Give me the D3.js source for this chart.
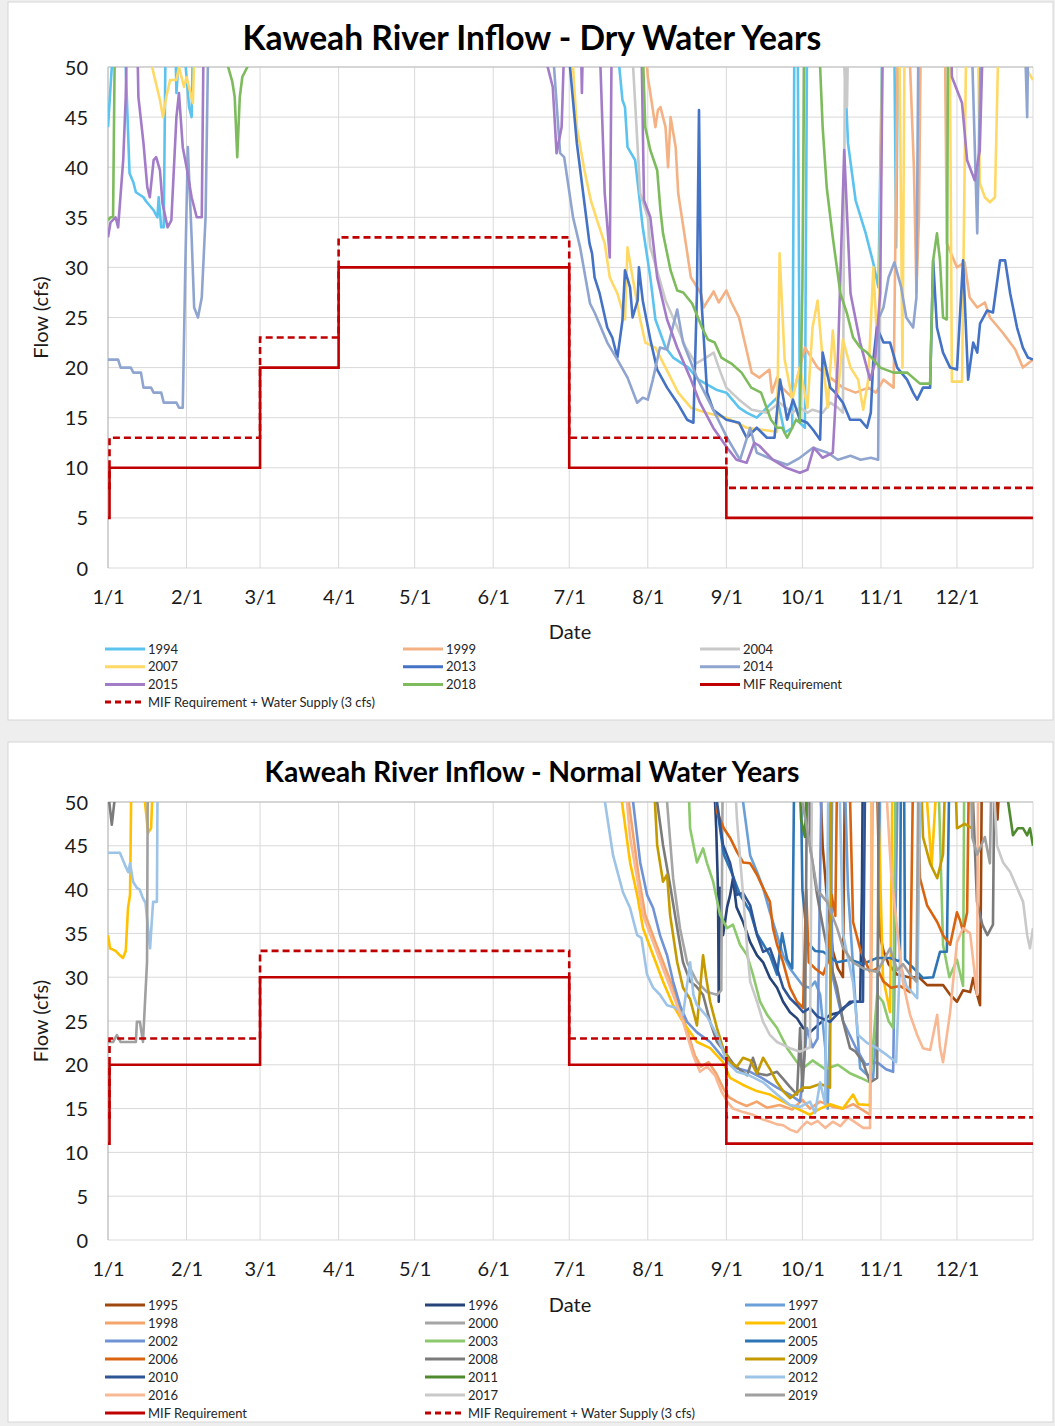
<!DOCTYPE html>
<html>
<head>
<meta charset="utf-8">
<script src="https://cdn.jsdelivr.net/npm/d3@7"></script>
<style>
  body { margin: 0; background: #eeeeee; }
  text { font-family: Lato, "Open Sans", sans-serif; }
</style>
</head>
<body>
<svg id="chart" width="1055" height="1426"></svg>
<script>
// axis ticks (day of a 366 day year)
var monthDays = [0, 31, 60, 91, 121, 152, 182, 213, 244, 274, 305, 335];
var monthLabels = ['1/1', '2/1', '3/1', '4/1', '5/1', '6/1', '7/1', '8/1', '9/1', '10/1', '11/1', '12/1'];
var flowTicks = [0, 5, 10, 15, 20, 25, 30, 35, 40, 45, 50];

// minimum instream flow requirement, step changes
var mifDays = [0, 0.6, 60, 91, 182, 244, 365];
var dryMif = [5, 10, 20, 30, 10, 5, 5];
var normalMif = [11, 20, 30, 30, 20, 11, 11];
var waterSupply = 3;

// ---- dry years: [day, cfs]  (60 = off the top of the chart)
var dry1994 = [[0,44],[2,52],[4,60],[6,60],[7,50],[8.5,39.4],[10,38.5],[11,37.5],[14,37],[15,36.6],[18,35.7],[19.5,35],[20,37],[21,34],[22,34],[23,60],[26,60],[27,47.4],[29,55],[32,46],[33,45],[34,60],
  [198,60],[203,46.7],[204,46],[205,42],[208,40.7],[211,34],[214,29],[216,24.8],[220,22],[223,21],[229,20],[233,18.8],[240,17.8],[244,17.5],[249,16],[252,15.5],[256,15],[260,16],[264,17],[267,13.5],[270,14],[271,60],[272,60],[273,14.5],[275,14],[276,60],[289,60],[292,42.4],[295,36.7],[299,33.4],[302,30.4],[304,28],[306,60],[310,60],[311,32],[312,60],[365,60]];
var dry1999 = [[0,60],[210,60],[213,49],[214,47.4],[216,44],[217,45.7],[218,46],[220,44],[221,40],[222,45],[224,42],[225,37.4],[228,32.4],[230,29],[234,27.4],[235,26],[239,27.6],[241,26.5],[244,27.7],[246,26.5],[249,25],[252,21.7],[254,19.5],[257,19],[261,19.8],[262,17.5],[264,19],[266,18],[270,17],[275,22],[280,20],[285,19],[290,18],[295,17.5],[300,18],[303,17.5],[306,18.8],[310,18],[312,60],[315,60],[318,40],[319,27.5],[320,35],[321,60],[330,60],[331,32.4],[335,30],[338,30.5],[340,27],[343,26],[346,26.5],[348,25],[353,23.5],[358,21.8],[361,20],[365,20.8]];
var dry2004 = [[0,60],[205,60],[210,37.4],[213,35],[214,32],[217,29.4],[220,26.7],[224,24.4],[228,22],[232,20.4],[236,21],[239,21.5],[241,20],[244,18],[249,16.8],[254,15.8],[260,15.5],[265,16.5],[270,15.5],[273,16],[276,15.5],[278,15.8],[282,15.5],[285,16.5],[288,16],[290,15.5],[291,60],[291.6,46],[292.5,60],[365,60]];
var dry2007 = [[0,60],[16,60],[17.4,50],[20.5,46.7],[21.7,45],[23,47],[24.5,48.7],[27,48.7],[28,50],[30,48],[31,49],[33.5,46.4],[35,60],
  [181,60],[185,44],[188,39.7],[190.5,36.7],[193,34.7],[196,32.4],[198,29],[201,27.4],[204,24.8],[205,32],[207,29],[210,24.8],[212,22.5],[216,22],[220,20],[225,17.5],[230,16],[236,15.5],[244,15],[252,14],[258,13.8],[264,13.6],[265,31.4],[267,20.8],[270,16.8],[273,20],[276,16],[278,24],[280,26.7],[282,20.8],[284,16],[286,23.7],[288,17.5],[290,22.8],[293,20],[296,18.8],[298,15.8],[300,18.8],[302,30],[304,20],[306,60],[312,60],[313.5,20],[314.5,60],[332,60],[333,18.6],[337,18.6],[339,60],[343,60],[344,38.4],[346,37],[348,36.5],[350,37],[352,60],[361,60],[362,50],[365,48.7]];
var dry2013 = [[0,60],[180,60],[182.3,50],[185,42.4],[187.5,37.4],[190,32.4],[191,31.4],[192,29],[194,27.4],[197,24],[199,23],[201,21],[203,24.7],[204,29.7],[206,28],[207,25],[209,26.7],[209.5,30],[211,26.7],[214,22.8],[216.7,19.8],[220.6,18],[224.6,16.5],[228.5,14.8],[231,14.5],[232.4,27.4],[233.2,45.7],[234,27.4],[236.4,17.5],[238.8,15.8],[244,14.8],[249,14.5],[252,13],[256,14],[260,13],[263,13],[265.2,18.8],[268,14.8],[270.3,16.8],[273,14.8],[275.9,14.5],[278.2,13.8],[281,12.8],[282,21.5],[285,18],[287,17.5],[290,16.5],[292.8,14.8],[296.8,14.8],[299.5,14],[301,15.5],[302,20.8],[303.4,24],[306,22.5],[308.6,22.5],[311.4,20],[315.3,18.8],[317.7,17.5],[319.3,16.8],[321.6,18],[324.4,18],[325.6,30.7],[327.1,24],[329.5,21.5],[332.3,20],[335,19.8],[337.4,30.7],[339.4,18.8],[341.4,22.5],[343,21.5],[344.1,24.4],[346.9,25.7],[349.2,25.5],[352,30.7],[354,30.7],[356,27.4],[358.7,24],[361,22],[363,21],[365,20.8]];
var dry2014 = [[0,20.8],[4,20.8],[5,20],[9,20],[10,19.5],[13,19.5],[14,18],[17,18],[18,17.5],[21,17.5],[22,16.5],[27,16.5],[28,16],[29.5,16],[30.5,30],[31.5,42],[33,33],[34,26],[35.5,25],[37,27],[38.5,35],[40,60],
  [174,60],[176,50],[178.4,41.4],[180,41],[183.5,35],[186.3,32],[190.2,26.4],[192,25.5],[197,22.5],[201,20.8],[205,19],[208.8,16.5],[211,17],[213,16.8],[215,18.8],[217.8,22],[220.6,21.8],[224.6,25.8],[226.9,22.5],[232.4,19],[238.8,15.8],[244.3,13],[249.4,10.8],[253.4,14],[256,11.5],[262.4,10.8],[268,10.3],[273,11],[278.2,12],[284,11.5],[288,10.8],[293,11.2],[297,10.8],[301,11],[303.9,10.8],[304.3,25],[306,26],[308,29],[310.3,30.5],[313,28],[315,25],[317.7,24],[319,27],[320,60],[340,60],[343,33.4],[345,60],[361,60],[362.7,45],[363.5,60]];
var dry2015 = [[0,33],[1,34.5],[3,35],[4,34],[6,40.7],[7,47],[8,60],[11,60],[12,47],[14,42.4],[15.5,38],[16.5,37],[18,40.7],[19,41],[20.5,39.7],[21.5,36.4],[23.5,34],[25,34.7],[27,45],[28,47.4],[29.5,42],[31,40],[33,37],[35,35],[37,35],[38,60],
  [172,60],[173.5,50],[175.5,48],[177,41.4],[179,44],[181,60],[186,60],[187,47.4],[188,60],[193,60],[196,37.4],[198,31],[199,60],[210,60],[211.5,36.7],[214,35],[216.7,29],[220.6,24.8],[224.6,22],[229.7,19],[233.6,16.5],[238.8,14],[244.3,12],[248,10.8],[252,10.5],[255,12.5],[257,12.2],[262.4,10.8],[267.6,10],[273,9.5],[276,9.8],[278.5,12],[282,11],[286,11.5],[288,20.8],[290.5,41.7],[293,27.4],[296.8,22.5],[300.7,18.8],[302.6,20.4],[304.7,27.4],[306,60],[332,60],[333,49],[337,46.4],[339,40.7],[342,38.7],[344,41.7],[346,60],[365,60]];
var dry2018 = [[0,34.7],[1,35],[2,35],[3,60],[46,60],[47.4,50],[49,48.6],[50,47],[51,41],[52,47],[53,49],[55,50],[56,60],
  [210,60],[212,44],[214,41.7],[216.7,39.7],[218,35.7],[219,33.4],[222,29.7],[224.6,27.7],[227,27.5],[230.5,26.4],[234.4,24],[236.7,22.8],[239.4,22.5],[242,21],[246,20.4],[250,19.5],[253.8,18],[257.7,17.5],[261.6,14.8],[264,14],[266,14],[268,13],[270,14],[271.5,14.8],[273,14.5],[274,28],[275,60],[280,60],[281,50],[282,44],[283.6,38],[286,33],[289,27.4],[291.6,25.4],[294,23],[296.8,22],[299.5,21.5],[302,20.8],[304.7,20],[310,19.5],[315.3,19.5],[320.4,18.4],[324.4,18.4],[325.6,30.7],[327.1,33.4],[328.3,30.7],[329.5,25],[331,24.8],[331.6,60],[365,60]];

// ---- normal years
var nrm1995 = [[0,60],[280,60],[282,45],[284,38],[286,33],[288,31],[290,30],[291,60],[303,60],[304.7,34.8],[306,33],[308,31.5],[311.4,30.3],[316,30],[320,30],[323.2,29.1],[329.5,29.1],[332.3,28],[335,27.2],[337.4,28.5],[340.2,28.3],[341.4,29.9],[342.5,28.5],[344.1,26.8],[345,60],[350,60],[351,48],[353,60],[365,60]];
var nrm1996 = [[0,60],[238,60],[240,47],[240.7,40],[241,27.2],[241.5,40.2],[242.7,34.8],[244.3,38],[245.5,39.4],[246.6,41.3],[248,38],[250.6,36.3],[253.4,34],[256.1,32.5],[258.5,31.7],[261.2,29.9],[264,28.8],[266.4,27.2],[269.1,26],[271.9,25.3],[274.3,24.2],[277,23.7],[280,24.5],[284.9,25.7],[288.9,26],[292.8,27.2],[296.8,27.2],[297.5,40],[298,60],[365,60]];
var nrm1997 = [[0,60],[248,60],[250.6,50],[253.4,43.9],[256.1,42],[258.5,40.2],[261.2,37.4],[264,34.8],[266.4,32.5],[269.1,31],[271.9,29.9],[274.3,29],[277,28.8],[279,29.5],[281,28],[283,22],[284,15],[285,26],[286,60],[290,60],[292,40],[295.6,24.2],[296.8,19.6],[299,19],[301.9,18.5],[303.5,25],[305,60],[365,60]];
var nrm1998 = [[0,60],[203,60],[205.5,50],[209.5,41.3],[212,37.1],[216,34],[220,31],[224,28],[227.5,24.9],[231.5,21.1],[234,19.8],[237,20.3],[240,19],[243,17.2],[245,16.3],[248,15.8],[252,15.3],[256,15.8],[260,15.1],[265,15.4],[270,14.9],[274,16],[277,15],[281,15.8],[286,15.2],[290,15],[294,15.5],[298,14.8],[300.7,14.3],[302,60],[365,60]];
var nrm2000 = [[0,60],[218,60],[220.6,50],[223,41.3],[225.7,35.6],[228.5,31.7],[232.4,29.5],[236.4,28.3],[240.3,28],[242,28.5],[242.7,60],[365,60]];
var nrm2001 = [[0,34.8],[0.8,33.3],[3,33],[4.7,32.5],[5.9,32.2],[7,33],[7.9,37.9],[8.7,39.4],[9.5,60],[14,60],[14.6,50],[15.8,46.5],[17,47],[17.4,50],[18,60],
  [200,60],[202.8,50],[206,43.1],[208.8,39.4],[211.1,35.6],[215.1,32.5],[219,29.5],[223,26.8],[226.9,24.9],[232.4,22.6],[237.6,21.9],[242.7,20.3],[245.5,18.5],[250.6,17.7],[256,17],[261.2,16.6],[266.4,15.8],[271.9,15],[277,14.3],[281,15],[285,15.5],[290,15],[294,16.6],[296,15.5],[300.7,15.4],[301.5,60],[303,60],[305.8,30],[308.6,26],[309.8,60],[322,60],[323.2,50],[325,42.8],[326.5,50],[327.5,60],[365,60]];
var nrm2002 = [[0,60],[205,60],[207.2,50],[210,43.1],[212.7,39.4],[215.1,37.9],[217.8,34.8],[220.6,32.5],[223,29.5],[225.7,26.8],[228.5,24.9],[232.4,23.7],[237.6,22.6],[242.7,20.8],[248.2,19.6],[253.4,19.2],[258,18.5],[264,17.4],[269.1,16.6],[273.1,15.8],[275.8,24.2],[278,22],[280,23],[282,60],[284,60],[286,30],[290,25],[295,22],[299,20],[303.5,20.3],[307,19.5],[309.8,19.2],[312,60],[365,60]];
var nrm2003 = [[0,60],[228,60],[229.7,47],[232.4,43.1],[234.8,44.7],[236.4,43],[238.8,40.9],[241.5,37.1],[244.3,35.6],[246.6,36],[249.4,33.7],[252.2,32.5],[254.5,30.3],[257.3,27.2],[260.1,25.7],[264,24.2],[268,21.9],[271.9,20.3],[274.3,19.6],[278,20.5],[283,19.5],[288,20],[293,19],[297,18.5],[300.7,18],[303.5,28],[305.8,27.2],[308,25],[309.8,24.2],[311,60],[327,60],[329.5,33.7],[332,30],[335,32],[337.4,29],[338,60],[365,60]];
var nrm2005 = [[0,60],[238,60],[240,50],[243,44],[246,42],[249.4,39.4],[253.4,37.5],[256,35],[261.2,32.5],[264,30.3],[266,35],[268,32],[270,31],[271,60],[273,60],[274,40],[276,34],[279,33],[282.2,32.9],[287.7,31.7],[292.8,32],[297.9,31.5],[303.5,32.2],[308.6,32.2],[312.5,31.8],[313,60],[314,60],[314.5,32],[319.3,30.6],[321.6,29.9],[325.6,30],[328.3,32.9],[331,32.9],[332.3,60],[365,60]];
var nrm2006 = [[0,60],[238,60],[240.3,48.9],[243,47],[245.5,45.9],[248.2,44.3],[250.6,43.1],[253.4,43],[256.1,41.7],[258.5,40.2],[261.2,38.6],[262.4,35.6],[264,33.7],[266.4,31.7],[269.1,28.8],[271.9,27.2],[274.3,26.5],[275.5,40],[276.5,31.7],[279,31],[282.2,30.3],[284,31.7],[285.5,39.4],[287,37],[288,60],[292,60],[294,36.3],[297,33],[300.7,30.6],[303.5,31],[306,29.5],[309,28.8],[312.5,29],[316.5,28.3],[318,60],[319,60],[320.4,41.3],[323.2,38.2],[327.2,36.3],[329.5,34.8],[332.3,33.7],[335,37.4],[336.2,36.5],[337.4,35.2],[339,37.4],[340,60],[365,60]];
var nrm2008 = [[0,60],[0.5,50],[1.5,47.4],[2.5,50],[3,60],
  [214,60],[216.7,50],[219,45.1],[221.8,40.5],[224.6,35.6],[226.9,31.7],[229.7,29.5],[232,29],[234.8,28],[237.6,24.9],[240.3,22.6],[244.3,21.1],[247,20],[250,19.3],[252.2,18.8],[254.5,20.8],[256.5,19],[260,18.8],[264,19.2],[267,18.2],[269,17.5],[271.9,16.6],[273.1,24.2],[274,17],[275,22],[276,60],[276.5,60],[277,45],[279.8,39.4],[282.2,35.6],[284.9,31.7],[287.7,28.8],[290.1,24.9],[292.8,21.9],[295,21.5],[297.9,20.3],[300.7,18],[303.5,18.5],[304.3,60],[340,60],[342.9,38.6],[345,36],[347,34.8],[349.2,36],[350,60],[365,60]];
var nrm2009 = [[0,60],[214,60],[216.7,45.1],[219,40.9],[220.6,41.7],[221.8,37.1],[224.6,31.7],[226.9,28.8],[229.7,27.5],[232.4,24.5],[234.8,32.5],[236,30],[237.6,27.2],[240.3,24.2],[242.7,21.9],[245.5,20.3],[248.2,19.8],[250.6,20.8],[253.4,20.5],[256.1,19],[258.5,20.8],[261.2,19.5],[264,18],[266.4,17],[269.1,16.2],[271.9,16.8],[274.3,17.4],[277,17.4],[281,17.8],[284.9,17.4],[285.5,60],[320,60],[321.6,46],[324.4,43],[327.2,41.3],[329.5,44],[331,60],[333.5,60],[335,47],[338,47.5],[341,47],[342,60],[365,60]];
var nrm2010 = [[0,60],[238,60],[240.3,50],[242.7,45.1],[245.5,43],[248.2,39.4],[250.6,39.6],[253.4,38.2],[256.1,34.8],[258.5,32.9],[261.2,33.3],[264,31],[266.4,28.8],[269.1,27.6],[271.9,26.8],[274.3,26],[277,26.5],[280,25.5],[284.9,24.9],[290.1,26.5],[294,27.2],[297.9,27.2],[299,60],[365,60]];
var nrm2011 = [[0,60],[272,60],[273.5,48],[275,46],[276.5,60],[353,60],[355.2,50],[357.1,46.2],[359,47],[361.1,47],[362.7,46.2],[363.8,47],[365,45]];
var nrm2012 = [[0,44.2],[4.7,44.2],[6.7,42.8],[8,42],[8.7,43],[9.9,40.9],[11.4,40.2],[12.5,40],[13.8,39],[14.8,38.5],[15.8,35.6],[16.6,33.3],[17.2,36],[17.8,38.6],[19.3,38.6],[19.7,60],
  [194,60],[196.1,50],[199.3,43.9],[203.2,39.7],[206,37.9],[208.8,34.8],[210.5,34.5],[212.7,30.3],[215.1,28.8],[217.8,28],[220.6,26.8],[224,26.5],[226.9,25.7],[229.7,31.7],[231,28],[232.4,26.8],[236.4,25.5],[240.3,23.4],[244.3,20.3],[248.2,19.2],[253,18.8],[258.5,18],[264,16.6],[269.1,15.4],[273.1,15.2],[277,15.8],[279,14.5],[281,18],[283,15.5],[284.5,60],[288,60],[290,35],[294,29.4],[296,23.4],[299.5,22.5],[303.5,21.9],[307.4,21.1],[311,20.3],[312.5,31.7],[315,29],[319.3,27.6],[321,60],[365,60]];
var nrm2016 = [[0,60],[203,60],[204.8,50],[206,46],[208.8,41.3],[211.1,37.1],[215.1,34],[219,31],[223,28],[226.9,24.9],[230.9,21.1],[233.6,19.2],[236.4,19.8],[239.5,18.8],[242,17],[244.3,15.8],[246.6,15],[250.6,14.6],[254.5,14.3],[258,13.8],[261.2,13.5],[264,13.2],[266.4,13.1],[269.1,12.6],[271.9,12.3],[274,13],[275.8,13.5],[277.5,13.2],[280,13.6],[283,12.8],[286,13.5],[289,13],[292,14],[295,13.4],[298,12.8],[300.7,12.8],[301.5,60],[305.8,60],[307.4,50],[309,42],[311.4,35.6],[313.7,29.4],[316.5,25.7],[319.3,23.4],[321.6,21.9],[324.4,21.7],[327.2,25.7],[328.3,22],[329.5,20.3],[332.3,26],[335,34],[337.4,35.6],[340.2,35],[342.9,28],[343.5,60],[365,60]];
var nrm2017 = [[0,60],[246,60],[248.2,48],[250.6,39.4],[252.2,33.3],[253.4,29.5],[256.1,27.2],[258.5,24.9],[261.2,23.4],[264,22.6],[269.1,21.9],[273.1,21.5],[277,22],[278,60],[348,60],[350.8,45],[353.2,43.1],[356,42],[358.7,40.2],[361.1,38.6],[362.7,34.8],[363.8,33.3],[365,35.6]];
var nrm2019 = [[0,22.6],[2,22.6],[3.5,23.4],[5,22.6],[8,22.6],[11,22.6],[11.4,24.9],[12.6,24.9],[13.8,22.6],[15.4,31.7],[15.8,60],
  [270,60],[274,50],[277,45],[279.8,40],[283.7,38.6],[287.7,35.6],[290.1,33.3],[294,31.7],[298,31],[303.5,30.6],[308.6,33.3],[311.4,30.8],[313.7,31.5],[316.5,30.3],[319,29.5],[320,60],[340,60],[341,46],[343,44],[346,46],[348,43],[349,60],[365,60]];

var drySeries = [
  { name: '1994', color: '#5cc3ef', data: dry1994 },
  { name: '1999', color: '#f4b183', data: dry1999 },
  { name: '2004', color: '#c9c9c9', data: dry2004 },
  { name: '2007', color: '#ffd966', data: dry2007 },
  { name: '2013', color: '#4472c4', data: dry2013 },
  { name: '2014', color: '#8fa5cf', data: dry2014 },
  { name: '2015', color: '#a37cc8', data: dry2015 },
  { name: '2018', color: '#7dbb5d', data: dry2018 }
];

var normalSeries = [
  { name: '1995', color: '#9e480e', data: nrm1995 },
  { name: '1996', color: '#264478', data: nrm1996 },
  { name: '1997', color: '#6a9fd8', data: nrm1997 },
  { name: '1998', color: '#f4a36b', data: nrm1998 },
  { name: '2000', color: '#a5a5a5', data: nrm2000 },
  { name: '2001', color: '#ffc000', data: nrm2001 },
  { name: '2002', color: '#6f93d4', data: nrm2002 },
  { name: '2003', color: '#8cc96c', data: nrm2003 },
  { name: '2005', color: '#2e75b6', data: nrm2005 },
  { name: '2006', color: '#d9640f', data: nrm2006 },
  { name: '2008', color: '#7b7b7b', data: nrm2008 },
  { name: '2009', color: '#c49a00', data: nrm2009 },
  { name: '2010', color: '#2f5597', data: nrm2010 },
  { name: '2011', color: '#4f8a2f', data: nrm2011 },
  { name: '2012', color: '#9dc3e6', data: nrm2012 },
  { name: '2016', color: '#f8b894', data: nrm2016 },
  { name: '2017', color: '#c9c9c9', data: nrm2017 },
  { name: '2019', color: '#a0a0a0', data: nrm2019 }
];

var svg = d3.select('#chart');
var mifColor = '#c00000';

function drawPanel(cfg) {
  var g = svg.append('g');

  g.append('rect')
    .attr('x', 8).attr('y', cfg.boxTop)
    .attr('width', 1045).attr('height', cfg.boxHeight)
    .attr('fill', '#fff')
    .attr('stroke', '#d6d6d6');

  var x = d3.scaleLinear().domain([0, 365]).range([108, 1033]);
  var y = d3.scaleLinear().domain([0, 50]).range([cfg.plotBottom, cfg.plotTop]);

  // grid
  g.append('g').selectAll('line').data(flowTicks).join('line')
    .attr('x1', x(0)).attr('x2', x(365))
    .attr('y1', d => y(d)).attr('y2', d => y(d))
    .attr('stroke', '#d9d9d9');
  g.append('g').selectAll('line').data(monthDays.slice(1).concat([365])).join('line')
    .attr('x1', d => x(d)).attr('x2', d => x(d))
    .attr('y1', y(0)).attr('y2', y(50))
    .attr('stroke', '#d9d9d9');
  g.append('line')
    .attr('x1', x(0)).attr('x2', x(0)).attr('y1', y(0)).attr('y2', y(50))
    .attr('stroke', '#a6a6a6');
  g.append('line')
    .attr('x1', x(0)).attr('x2', x(365)).attr('y1', y(50)).attr('y2', y(50))
    .attr('stroke', '#bfbfbf');

  // axes
  var yAxis = g.append('g')
    .attr('transform', 'translate(' + (x(0) - 20) + ',0)')
    .call(d3.axisLeft(y).tickValues(flowTicks).tickSize(0).tickPadding(0));
  var xAxis = g.append('g')
    .attr('transform', 'translate(0,' + (y(0) + 22) + ')')
    .call(d3.axisBottom(x).tickValues(monthDays).tickFormat((d, i) => monthLabels[i]).tickSize(0).tickPadding(0));
  [yAxis, xAxis].forEach(function(a) {
    a.select('.domain').remove();
    a.selectAll('text')
      .style('font-size', '20px')
      .style('font-family', 'Lato, "Open Sans", sans-serif')
      .attr('fill', '#1a1a1a');
  });
  yAxis.selectAll('text').attr('dy', '0.35em');
  xAxis.selectAll('text').attr('dy', '0.71em');

  g.append('text')
    .attr('x', 570).attr('y', cfg.dateY)
    .attr('text-anchor', 'middle')
    .attr('dominant-baseline', 'middle')
    .style('font-size', '20px')
    .attr('fill', '#1a1a1a')
    .text('Date');
  g.append('text')
    .attr('transform', 'translate(43,' + (y(25)) + ') rotate(-90)')
    .attr('text-anchor', 'middle')
    .attr('dominant-baseline', 'middle')
    .style('font-size', '20px')
    .attr('fill', '#1a1a1a')
    .text('Flow (cfs)');

  var title = g.append('text')
    .attr('x', cfg.titleX).attr('y', cfg.titleY)
    .attr('text-anchor', 'middle')
    .attr('dominant-baseline', 'middle')
    .style('font-weight', 'bold')
    .style('font-size', '30px')
    .attr('fill', '#000')
    .text(cfg.title);
  var w = title.node().getComputedTextLength();
  title.style('font-size', (30 * cfg.titleWidth / w) + 'px');

  // clip + lines
  g.append('clipPath').attr('id', cfg.id)
    .append('rect')
    .attr('x', x(0)).attr('y', y(50))
    .attr('width', x(365) - x(0)).attr('height', y(0) - y(50));

  var line = d3.line().x(d => x(d[0])).y(d => y(d[1]));
  var plot = g.append('g').attr('clip-path', 'url(#' + cfg.id + ')');

  plot.selectAll('path.yr').data(cfg.series).join('path')
    .attr('class', 'yr')
    .attr('d', d => line(d.data))
    .attr('fill', 'none')
    .attr('stroke', d => d.color)
    .attr('stroke-width', 2.6)
    .attr('stroke-linejoin', 'round');

  var step = d3.line().x(d => x(d[0])).y(d => y(d[1])).curve(d3.curveStepAfter);
  var mifPts = mifDays.map((d, i) => [d, cfg.mif[i]]);
  var supplyPts = mifDays.map((d, i) => [d, cfg.mif[i] + waterSupply]);
  plot.append('path')
    .attr('d', step(mifPts))
    .attr('fill', 'none').attr('stroke', mifColor).attr('stroke-width', 2.6);
  plot.append('path')
    .attr('d', step(supplyPts))
    .attr('fill', 'none').attr('stroke', mifColor).attr('stroke-width', 2.6)
    .attr('stroke-dasharray', '7,4');

  // legend
  var items = cfg.series.map(s => ({ name: s.name, color: s.color, dash: null }));
  items.push({ name: 'MIF Requirement', color: mifColor, dash: null });
  items.push({ name: 'MIF Requirement + Water Supply (3 cfs)', color: mifColor, dash: '6,4' });

  var leg = g.append('g').selectAll('g').data(items).join('g')
    .attr('transform', (d, i) => 'translate(' + cfg.legendCols[i % 3] + ',' + (cfg.legendTop + Math.floor(i / 3) * cfg.legendRow) + ')');
  leg.append('line')
    .attr('x1', 0).attr('x2', 40)
    .attr('stroke', d => d.color)
    .attr('stroke-width', 3)
    .attr('stroke-dasharray', d => d.dash);
  leg.append('text')
    .attr('x', 43)
    .attr('dy', '0.35em')
    .style('font-size', '13px')
    .attr('fill', '#262626')
    .text(d => d.name);
}

drawPanel({
  id: 'clipDry', boxTop: 2, boxHeight: 718,
  title: 'Kaweah River Inflow - Dry Water Years', titleX: 532, titleY: 41, titleWidth: 579,
  plotTop: 67, plotBottom: 568, dateY: 634,
  series: drySeries, mif: dryMif,
  legendCols: [105, 403, 700], legendTop: 649, legendRow: 17.7
});

drawPanel({
  id: 'clipNormal', boxTop: 742, boxHeight: 680,
  title: 'Kaweah River Inflow - Normal Water Years', titleX: 532, titleY: 775, titleWidth: 535,
  plotTop: 802, plotBottom: 1240, dateY: 1307,
  series: normalSeries, mif: normalMif,
  legendCols: [105, 425, 745], legendTop: 1305, legendRow: 18
});
</script>
</body>
</html>
